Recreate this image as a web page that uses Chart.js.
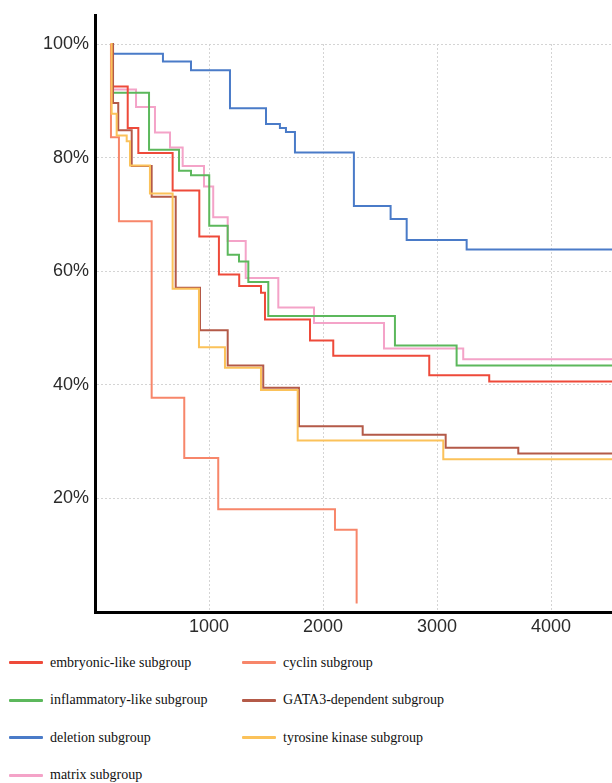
<!DOCTYPE html>
<html><head><meta charset="utf-8">
<script src="https://cdn.jsdelivr.net/npm/chart.js@4.4.0/dist/chart.umd.min.js"></script>
<style>
html,body{margin:0;padding:0;background:#fff;width:612px;height:783px;overflow:hidden;}
#wrap{position:relative;width:612px;height:640px;}
#legend{position:absolute;left:9px;top:644px;display:grid;grid-template-rows:repeat(4,37.5px);grid-template-columns:233px 330px;grid-auto-flow:column;font-family:"Liberation Serif","Times New Roman",serif;font-size:14px;color:#111;}
.item{display:flex;align-items:center;white-space:nowrap;}
.sw{width:34px;height:3px;margin-right:7px;border-radius:1px;}
</style></head><body>
<div id="wrap"><canvas id="c" width="612" height="640"></canvas></div>
<div id="legend"></div>
<script>
// Series names (legend order: column 1 then column 2)
const names = ["embryonic-like subgroup","inflammatory-like subgroup","deletion subgroup","matrix subgroup","cyclin subgroup","GATA3-dependent subgroup","tyrosine kinase subgroup"];
const colors = ["#ee4a3a","#5cb85c","#4a7bc8","#f4a3c8","#f7866a","#b45a48","#fbc25a"];

// Time (x) and survival % (y) for each step curve
const embryonicT = [145,158,287,380,681,915,1087,1265,1456,1491,1886,2090,2932,3458,4540];
const embryonicS = [100,92.5,85.2,80.8,74.2,66.1,59.4,57.4,56.2,51.5,47.8,45.1,41.7,40.6,40.6];
const inflammatoryT = [145,158,474,737,842,1002,1164,1263,1345,1520,2631,3172,4540];
const inflammatoryS = [100,91.4,81.4,77.7,76.9,68.0,62.9,61.7,58.1,52.1,46.9,43.4,43.4];
const deletionT = [145,158,596,842,1184,1500,1622,1675,1754,2271,2593,2734,3260,4540];
const deletionS = [100,98.3,96.9,95.4,88.7,85.9,85.2,84.5,80.9,71.5,69.2,65.5,63.8,63.8];
const matrixT = [145,158,360,526,658,769,956,1037,1164,1322,1608,1921,2535,3230,4540];
const matrixS = [100,92.0,88.9,84.4,81.8,78.5,74.9,69.5,65.3,58.8,53.6,50.9,46.4,44.5,44.5];
const cyclinT = [135,140,210,497,783,1081,2105,2295];
const cyclinS = [100,83.6,68.8,37.7,27.1,18.1,14.5,1.5];
const gataT = [145,158,204,322,497,708,921,1164,1476,1789,2348,3076,3713,4540];
const gataS = [100,89.6,84.8,78.5,73.1,57.1,49.6,43.4,39.5,32.7,31.2,28.9,27.9,27.9];
const tyrosineT = [140,146,190,278,307,482,681,912,1140,1456,1778,3055,4540];
const tyrosineS = [100,87.7,83.9,82.9,78.6,73.7,56.9,46.6,43.0,39.1,30.2,26.9,26.9];

const seriesT = [embryonicT,inflammatoryT,deletionT,matrixT,cyclinT,gataT,tyrosineT];
const seriesS = [embryonicS,inflammatoryS,deletionS,matrixS,cyclinS,gataS,tyrosineS];

// Axis ticks (0 gets a grid line but no label)
const xTicks = [0,1000,2000,3000,4000];
const yTicks = [0,20,40,60,80,100];

// draw order: first drawn on top
const drawOrder = [6,5,4,0,1,3,2];

const datasets = drawOrder.map(i => ({
  label: names[i],
  data: seriesT[i].map((t,k) => ({x:t, y:seriesS[i][k]})),
  borderColor: colors[i],
  borderWidth: 2,
  pointRadius: 0,
  stepped: 'before',
  fill: false,
  clip: 3
}));

const axisExt = {id:'axisExt', afterDraw(chart){
  const {ctx, chartArea:a} = chart;
  ctx.save(); ctx.strokeStyle='#000'; ctx.lineWidth=3;
  ctx.beginPath(); ctx.moveTo(a.left+0.5, a.top-30); ctx.lineTo(a.left+0.5, a.top+1); ctx.stroke();
  ctx.restore();
}};

const tickFont = {family:'"Liberation Sans", Arial, sans-serif', size:18};

new Chart(document.getElementById('c'), {
  type: 'line',
  data: {datasets},
  options: {
    responsive:false, animation:false,
    layout:{padding:{top:44,left:0,right:0,bottom:0}},
    plugins:{legend:{display:false}, tooltip:{enabled:false}},
    scales:{
      x:{type:'linear', min:0, max:4535,
        afterFit: s => { s.height = 28; },
        afterBuildTicks: s => { s.ticks = xTicks.map(v => ({value:v})); },
        ticks:{padding:4, maxRotation:0, autoSkip:false,
          callback: v => v === 0 ? '' : String(v),
          font:tickFont, color:'#2b2b2b'},
        grid:{color:'#d4d4d4', lineWidth:1, drawTicks:false},
        border:{display:true, color:'#000', width:3, dash:[2,2]}
      },
      y:{type:'linear', min:0, max:100,
        afterFit: s => { s.width = 95; },
        afterBuildTicks: s => { s.ticks = yTicks.map(v => ({value:v})); },
        ticks:{padding:6, autoSkip:false,
          callback: v => v === 0 ? '' : v + '%',
          font:tickFont, color:'#2b2b2b'},
        grid:{color:'#d4d4d4', lineWidth:1, drawTicks:false},
        border:{display:true, color:'#000', width:3, dash:[2,2]}
      }
    }
  },
  plugins:[axisExt]
});

// HTML legend
const leg = document.getElementById('legend');
names.forEach((n,i) => {
  const d = document.createElement('div'); d.className='item';
  const s = document.createElement('span'); s.className='sw'; s.style.background = colors[i];
  const t = document.createElement('span'); t.textContent = n;
  d.appendChild(s); d.appendChild(t); leg.appendChild(d);
});
</script>
</body></html>
